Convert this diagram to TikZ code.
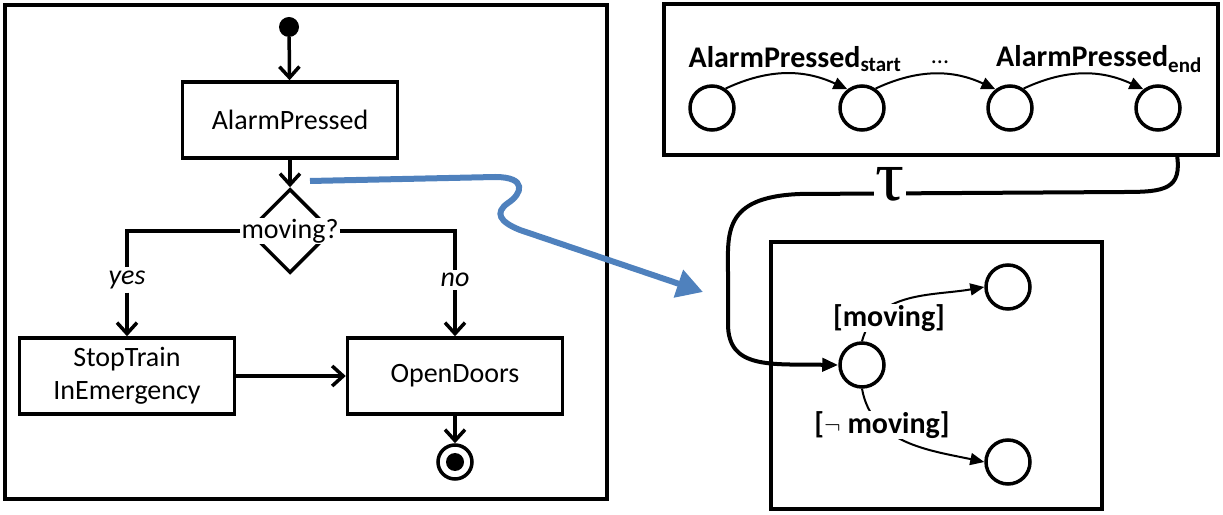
\documentclass[tikz,border=0pt]{standalone}
\usepackage{amsmath}
\usepackage{amssymb}
\usepackage{fontspec}
\setmainfont{Carlito}
\newfontfamily\taufont{Liberation Serif}
\usepackage{tikz}
\usetikzlibrary{shapes.geometric}
\usetikzlibrary{arrows.meta}
\usepackage{xcolor}
\definecolor{officeblue}{RGB}{79,129,189}

\begin{document}
\begin{tikzpicture}[x=1pt, y=1pt,
  act/.style={draw, line width=3.5, minimum width=215, minimum height=76, align=center, font=\fontsize{28}{33}\selectfont},
  flow/.style={line width=3.5, -{Straight Barb[length=11pt, width=20pt]}},
  state/.style={circle, draw, line width=3.5, minimum size=44, inner sep=0},
  trans/.style={line width=2, -{Triangle[length=14pt, width=12pt]}},
  guard/.style={fill=white, inner sep=1, font=\fontsize{30}{34}\selectfont\bfseries},
  evt/.style={font=\fontsize{30}{34}\selectfont\bfseries}]
\useasboundingbox (0,0) rectangle (1223,514);

% activity diagram
\draw [line width=4.5] (5,15) rectangle (607,509);
\node (start) [circle, fill=black, minimum size=20, inner sep=0] at (289,487) {};
\node (alarm) [act] at (290,394) {AlarmPressed};
\node (dec) [diamond, draw, line width=3.5, minimum width=84, minimum height=84, inner sep=0] at (290,283) {};
\node (q) [fill=white, inner sep=1, font=\fontsize{28}{33}\selectfont] at (dec) {moving?};
\node (yes) [font=\fontsize{28}{33}\selectfont\itshape] at (127,234) {yes};
\node (no) [font=\fontsize{28}{33}\selectfont\itshape] at (455,234) {no};
\node (stop) [act] at (127,138) {StopTrain\\InEmergency};
\node (open) [act] at (455,138) {OpenDoors};
\node (end) [circle, draw, line width=3.5, minimum size=34, inner sep=0] at (455,52) {};
\fill (end.center) circle (9pt);

\draw [flow] (start) -- (alarm);
\draw [flow] (alarm) -- (dec);
\draw [line width=3.5] (q.west) -| (yes.north);
\draw [line width=3.5] (q.east) -| (no.north);
\draw [flow] (yes.south) -- (stop.north);
\draw [flow] (no.south) -- (open.north);
\draw [flow] (stop) -- (open);
\draw [flow] (open) -- (end);

% trace of AlarmPressed
\draw [line width=4.5] (664,510) rectangle (1218,359);
\node (s1) [state] at (712,406) {};
\node (s2) [state] at (862,406) {};
\node (s3) [state] at (1010,406) {};
\node (s4) [state] at (1158,406) {};
\node (lstart) [evt] at (795,455) {AlarmPressed\textsubscript{start}};
\node (dots) [font=\fontsize{24}{28}\selectfont] at (940,452) {...};
\node (lend) [evt] at (1099,455) {AlarmPressed\textsubscript{end}};
\draw [trans] (s1.55) to[out=25, in=155] (s2.128);
\draw [trans] (s2.55) to[out=25, in=155] (s3.128);
\draw [trans] (s3.55) to[out=25, in=155] (s4.128);

% trace of the decision
\draw [line width=4.5] (771,272) rectangle (1102,5);
\node (mid) [state] at (862,149) {};
\node (up) [state] at (1008,227) {};
\node (low) [state] at (1008,52) {};
\draw [trans] (mid.north) to[out=75, in=190] (up.west);
\draw [trans] (mid.south) to[out=-80, in=168] (low.west);
\node (g1) [guard] at (889,196) {[moving]};
\node (g2) [guard] at (882,89) {[$\neg$ moving]};

% tau step between the two traces
\coordinate (tfrom) at (1177,359);
\draw [line width=4, -{Triangle[length=16pt, width=13pt]}] (tfrom) .. controls (1182,325) and (1165,322) .. (1125,322) -- (800,320) .. controls (722,317) and (728,280) .. (728,240) -- (728,190) .. controls (728,145) and (770,150) .. (mid.west);
\node (tau) [fill=white, inner sep=2, font=\fontsize{72}{72}\taufont] at (890,330) {τ};

% mapping of the decision
\coordinate (bfrom) at (310,333);
\coordinate (bto) at (703,222);
\draw [officeblue, line width=6, -{Triangle[length=26pt, width=28pt]}] (bfrom) -- (495,337) .. controls (528,337) and (522,320) .. (508,311) .. controls (494,301) and (500,292) .. (520,284) -- (bto);
\end{tikzpicture}
\end{document}
